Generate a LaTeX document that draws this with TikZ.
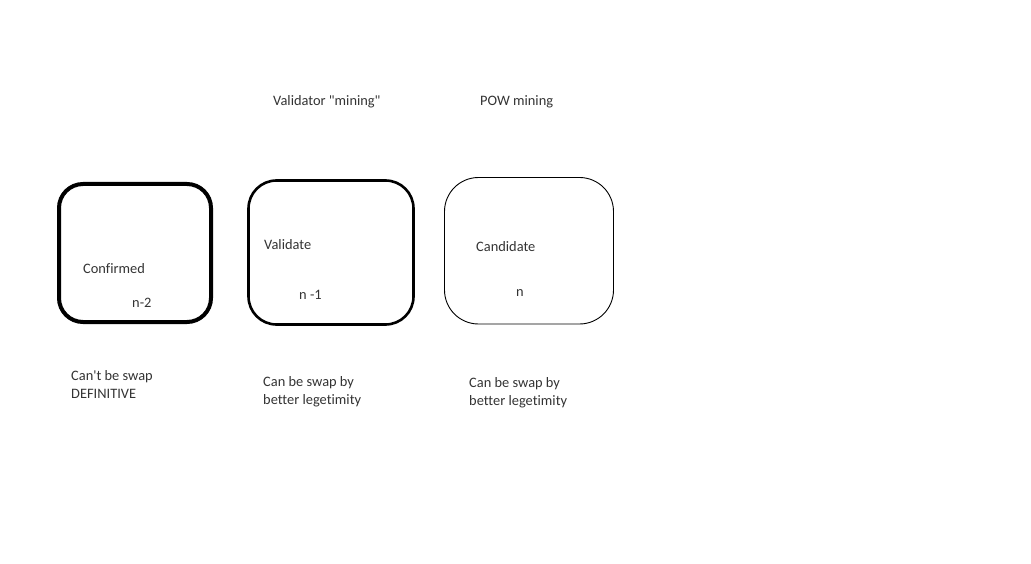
\documentclass[tikz,border=0pt]{standalone}
\usepackage{fontspec}
\setmainfont{Carlito}[Ligatures={TeXOff,NoCommon}]
\begin{document}
\begin{tikzpicture}[x=1pt,y=-1pt,
  lbl/.style={anchor=base west,inner sep=0pt,font=\fontsize{14.4}{18}\selectfont,text=black!80,align=left},
  blk/.style={draw=black,fill=none}]
\useasboundingbox (0,0) rectangle (1031,564);
% boxes
\draw[blk,line width=4pt,rounded corners=24pt] (59,184) rectangle (211,322);
\draw[blk,line width=2.6pt,rounded corners=28pt] (248.5,180.5) rectangle (413.5,324.5);
\draw[blk,line width=0.9pt,rounded corners=34pt] (444.5,177.5) rectangle (613.5,324);
% headers
\node[lbl] (h1) at (273,105.5) {Validator "mining"};
\node[lbl] (h2) at (480,105.5) {POW mining};
% box texts
\node[lbl] (t1) at (83,273.5) {Confirmed};
\node[lbl] (n1) at (132,307.5) {n-2};
\node[lbl] (t2) at (264,249.5) {Validate};
\node[lbl] (n2) at (299,299.5) {n -1};
\node[lbl] (t3) at (476,251.5) {Candidate};
\node[lbl] (n3) at (516,296.5) {n};
% captions
\node[lbl] (c1) at (71,398.5) {Can't be swap\\DEFINITIVE};
\node[lbl] (c2) at (263,404.5) {Can be swap by\\better legetimity};
\node[lbl] (c3) at (469,405.5) {Can be swap by\\better legetimity};
\end{tikzpicture}
\end{document}
